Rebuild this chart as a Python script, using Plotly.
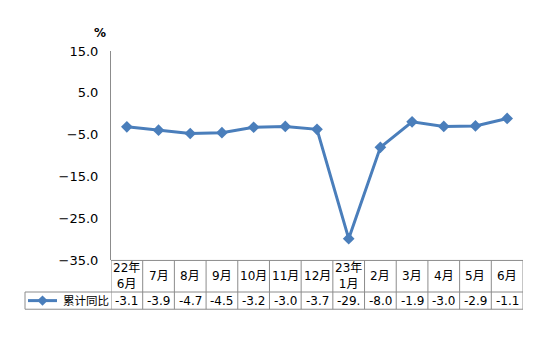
import plotly.graph_objects as go

categories = ["22年<br>6月", "7月", "8月", "9月", "10月", "11月", "12月",
              "23年<br>1月", "2月", "3月", "4月", "5月", "6月"]
values = [-3.1, -3.9, -4.7, -4.5, -3.2, -3.0, -3.7, -29.8, -8.0, -1.9, -3.0, -2.9, -1.1]
value_labels = ["-3.1", "-3.9", "-4.7", "-4.5", "-3.2", "-3.0", "-3.7", "-29.",
                "-8.0", "-1.9", "-3.0", "-2.9", "-1.1"]
series_name = "累计同比"
y_ticks = [15.0, 5.0, -5.0, -15.0, -25.0, -35.0]

W, H = 554, 344
LINE_COLOR = "#4A7EBB"
GRID = "#8C8C8C"
FONT = "DejaVu Sans, Noto Sans CJK SC, sans-serif"

def py(pix):
    return 1 - pix / H

x_left, x_right = 111, 523
y_top, y_bot = 46, 265
row1_bot = 298
row2_bot = 316
legend_left = 25
row1_mid = (y_bot + row1_bot) / 2
row2_mid = (row1_bot + row2_bot) / 2

fig = go.Figure()
xs = list(range(len(categories)))
fig.add_trace(go.Scatter(
    x=xs, y=values, mode="lines+markers",
    line=dict(color=LINE_COLOR, width=3),
    marker=dict(symbol="diamond", size=9, color=LINE_COLOR),
    showlegend=False, cliponaxis=False,
))

shapes = []
for i in range(len(categories) + 1):
    shapes.append(dict(type="line", xref="x", yref="paper",
                       x0=i - 0.5, x1=i - 0.5, y0=py(y_bot), y1=py(row2_bot),
                       line=dict(color=GRID, width=1)))
for yy in [y_bot, row1_bot, row2_bot]:
    shapes.append(dict(type="line", xref="paper", yref="paper",
                       x0=(legend_left if yy != y_bot else x_left) / W, x1=x_right / W,
                       y0=py(yy), y1=py(yy), line=dict(color=GRID, width=1)))
shapes.append(dict(type="line", xref="paper", yref="paper",
                   x0=legend_left / W, x1=legend_left / W, y0=py(row1_bot), y1=py(row2_bot),
                   line=dict(color=GRID, width=1)))
shapes.append(dict(type="line", xref="paper", yref="paper",
                   x0=28 / W, x1=57 / W, y0=py(row2_mid), y1=py(row2_mid),
                   line=dict(color=LINE_COLOR, width=3)))

annotations = []
for i, (c, v) in enumerate(zip(categories, value_labels)):
    annotations.append(dict(x=i, xref="x", y=py(row1_mid), yref="paper", text=c,
                            showarrow=False, font=dict(size=12, color="#000", family=FONT),
                            align="center", yanchor="middle"))
    annotations.append(dict(x=i, xref="x", y=py(row2_mid), yref="paper", text=v,
                            showarrow=False, font=dict(size=12, color="#000", family=FONT),
                            yanchor="middle"))
annotations.append(dict(x=61 / W, xref="paper", y=py(row2_mid), yref="paper", text=series_name,
                        xanchor="left", showarrow=False,
                        font=dict(size=11.5, color="#000", family=FONT), yanchor="middle"))
annotations.append(dict(x=92 / W, xref="paper", y=py(27), yref="paper", text="<b>%</b>",
                        showarrow=False, font=dict(size=12, color="#000", family=FONT),
                        yanchor="middle"))

fig.add_trace(go.Scatter(x=[42.5 / W], y=[py(row2_mid)], xaxis="x2", yaxis="y2",
                         mode="markers", marker=dict(symbol="diamond", size=8, color=LINE_COLOR),
                         showlegend=False, cliponaxis=False))

fig.update_layout(
    width=W, height=H, margin=dict(l=0, r=0, t=0, b=0),
    paper_bgcolor="white", plot_bgcolor="rgba(0,0,0,0)",
    font=dict(family=FONT, size=12, color="#000"),
    xaxis=dict(domain=[x_left / W, x_right / W], range=[-0.5, len(categories) - 0.5],
               showticklabels=False, showgrid=False, zeroline=False, showline=False,
               fixedrange=True),
    yaxis=dict(domain=[py(y_bot), py(y_top)], range=[-35, 15], tickvals=y_ticks,
               tickformat=".1f", showgrid=False, zeroline=False, showline=True,
               linecolor=GRID, linewidth=1, ticks="", ticklen=0,
               tickfont=dict(size=13, family=FONT), ticklabelstandoff=9),
    xaxis2=dict(domain=[0, 1], range=[0, 1], visible=False),
    yaxis2=dict(domain=[0, 1], range=[0, 1], visible=False),
    shapes=shapes, annotations=annotations,
)
fig.write_html("out.html")
